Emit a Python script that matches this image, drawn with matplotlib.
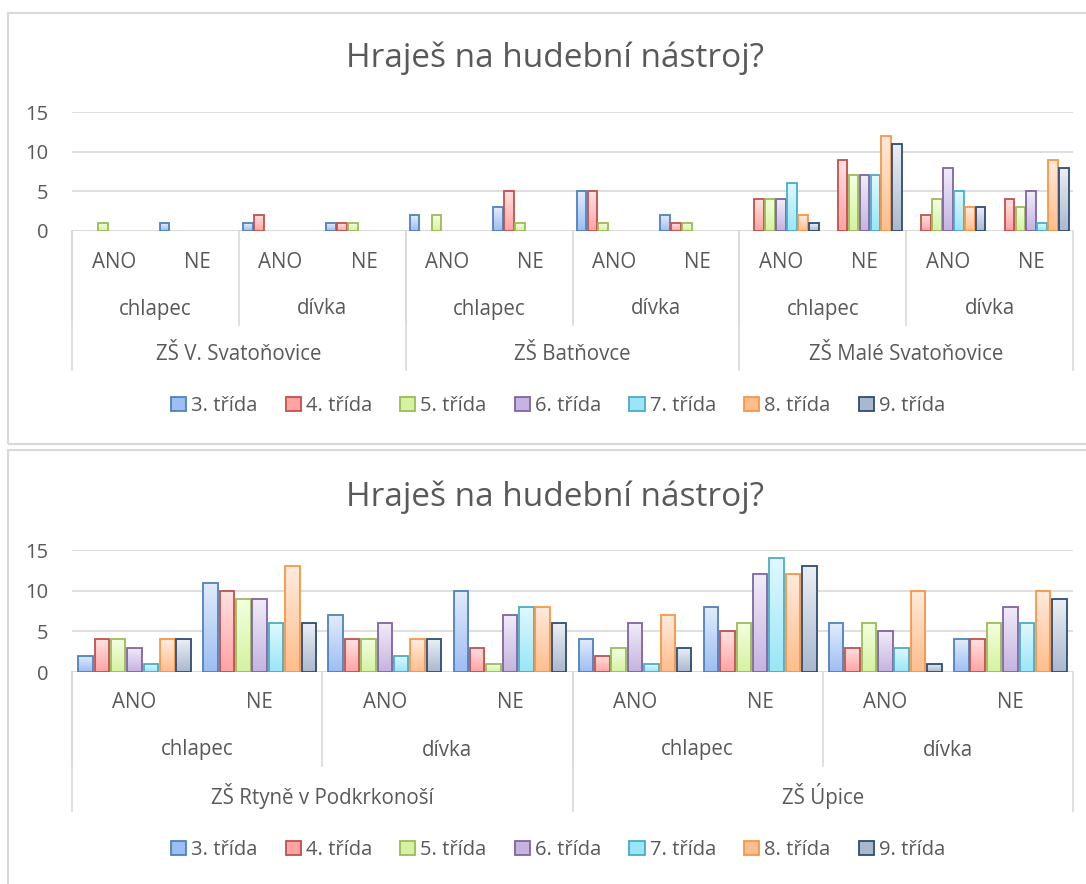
import numpy as np
import matplotlib
matplotlib.use("Agg")
from matplotlib import pyplot as plt
from matplotlib.patches import Rectangle, Patch
from matplotlib.lines import Line2D
from matplotlib.colors import LinearSegmentedColormap
import matplotlib.transforms as mtrans

plt.rcParams['font.family'] = ['Open Sans', 'DejaVu Sans']

# data
title = "Hraješ na hudební nástroj?"
series_names = ["3. třída", "4. třída", "5. třída", "6. třída", "7. třída", "8. třída", "9. třída"]
answers = ["ANO", "NE"]
genders = ["chlapec", "dívka"]
schools_top = ["ZŠ V. Svatoňovice", "ZŠ Batňovce", "ZŠ Malé Svatoňovice"]
schools_bottom = ["ZŠ Rtyně v Podkrkonoší", "ZŠ Úpice"]

# order: school -> gender -> answer
top_3 = [0, 1, 1, 1, 2, 3, 5, 2, 0, 0, 0, 0]
top_4 = [0, 0, 2, 1, 0, 5, 5, 1, 4, 9, 2, 4]
top_5 = [1, 0, 0, 1, 2, 1, 1, 1, 4, 7, 4, 3]
top_6 = [0, 0, 0, 0, 0, 0, 0, 0, 4, 7, 8, 5]
top_7 = [0, 0, 0, 0, 0, 0, 0, 0, 6, 7, 5, 1]
top_8 = [0, 0, 0, 0, 0, 0, 0, 0, 2, 12, 3, 9]
top_9 = [0, 0, 0, 0, 0, 0, 0, 0, 1, 11, 3, 8]

bot_3 = [2, 11, 7, 10, 4, 8, 6, 4]
bot_4 = [4, 10, 4, 3, 2, 5, 3, 4]
bot_5 = [4, 9, 4, 1, 3, 6, 6, 6]
bot_6 = [3, 9, 6, 7, 6, 12, 5, 8]
bot_7 = [1, 6, 2, 8, 1, 14, 3, 6]
bot_8 = [4, 13, 4, 8, 7, 12, 10, 10]
bot_9 = [4, 6, 4, 6, 3, 13, 1, 9]

# barvy (okraj, spodek, vrsek)
edge_cols = ["#4F81BD", "#C0504D", "#9BBB59", "#8064A2", "#4BACC6", "#F79646", "#2C4D75"]
low_cols = ["#9DBEF2", "#FFA3A3", "#D5F2A2", "#C5B3E0", "#9AE6F7", "#FFBD8C", "#AAB8CE"]
high_cols = ["#E2ECFC", "#FFE2E2", "#F3FFE0", "#F1ECF9", "#E0F8FF", "#FFEBDD", "#ECEFF4"]
text_col = "#595959"
grid_col = "#D9D9D9"

W, H = 1086, 884
fig = plt.figure(figsize=(W / 100, H / 100), dpi=100)


def px_axes(l, r, b, t):
    return fig.add_axes([l / W, 1 - b / H, (r - l) / W, (b - t) / H])


def draw_chart(ax, data, schools, legend_y, title_y):
    n = len(data[0])
    x = np.arange(n)
    pitch = 0.131
    width = 0.116
    grad = np.linspace(0, 1, 64).reshape(-1, 1)
    for i, vals in enumerate(data):
        v = np.array(vals, dtype=float)
        v = np.where(v > 0, v, np.nan)
        bars = ax.bar(x + (i - 3) * pitch, v, width=width, facecolor="none",
                      edgecolor=edge_cols[i], linewidth=1.3, zorder=3)
        cmap = LinearSegmentedColormap.from_list("g%d" % i, [low_cols[i], high_cols[i]])
        for b in bars:
            h = b.get_height()
            if not np.isfinite(h):
                continue
            im = ax.imshow(grad, extent=[b.get_x(), b.get_x() + b.get_width(), 0, h],
                           origin="lower", aspect="auto", cmap=cmap, zorder=2)
            im.set_clip_path(b)
    ax.set_xlim(-0.5, n - 0.5)
    ax.set_ylim(0, 15)
    ax.set_yticks([0, 5, 10, 15])
    ax.tick_params(axis="y", length=0, pad=17, labelsize=14.5, labelcolor=text_col)
    ax.set_xticks([])
    for s in ax.spines.values():
        s.set_visible(False)
    ax.grid(axis="y", color=grid_col, linewidth=1.2)
    ax.set_axisbelow(True)
    ax.axhline(0, color=grid_col, linewidth=1.2, zorder=1)

    ax_h = ax.get_position().height * H
    xt = ax.get_xaxis_transform()

    def lbl(xpos, dy, s):
        tr = mtrans.offset_copy(xt, fig=fig, x=0, y=-dy, units="dots")
        ax.text(xpos, 0, s, transform=tr, ha="center", va="center",
                fontsize=14.8, color=text_col)

    def vline(xpos, dy):
        ax.add_line(Line2D([xpos, xpos], [0, -dy / ax_h], transform=xt,
                           color=grid_col, linewidth=1.2, clip_on=False))

    for c in range(n):
        lbl(c, 31, answers[c % 2])
    for g in range(n // 2):
        lbl(2 * g + 0.5, 78, genders[g % 2])
        vline(2 * g - 0.5, 94)
    for s in range(len(schools)):
        lbl(4 * s + 1.5, 124, schools[s])
        vline(4 * s - 0.5, 139)
    vline(n - 0.5, 139)

    fig.text(555 / W, 1 - title_y / H, title, ha="center", va="center",
             fontsize=24, color=text_col)
    handles = [Patch(facecolor=low_cols[i], edgecolor=edge_cols[i], linewidth=1.3)
               for i in range(7)]
    ax.legend(handles, series_names, ncol=7, loc="center",
              bbox_to_anchor=(558 / W, 1 - legend_y / H), bbox_transform=fig.transFigure,
              frameon=False, fontsize=14.5, labelcolor=text_col,
              handlelength=0.75, handleheight=0.75, handletextpad=0.25, columnspacing=1.4)


ax1 = px_axes(72, 1073, 231, 112)
ax2 = px_axes(72, 1073, 672, 550)
draw_chart(ax1, [top_3, top_4, top_5, top_6, top_7, top_8, top_9], schools_top, 406, 58)
draw_chart(ax2, [bot_3, bot_4, bot_5, bot_6, bot_7, bot_8, bot_9], schools_bottom, 850, 497)

# ramecky grafu
fig.add_artist(Rectangle((8 / W, 1 - 444 / H), 1.2, (444 - 13) / H, transform=fig.transFigure,
                         fill=False, edgecolor=grid_col, linewidth=1.5))
fig.add_artist(Rectangle((8 / W, -0.2), 1.2, 0.2 + 1 - 450 / H, transform=fig.transFigure,
                         fill=False, edgecolor=grid_col, linewidth=1.5))

fig.savefig("out.png", dpi=100)
